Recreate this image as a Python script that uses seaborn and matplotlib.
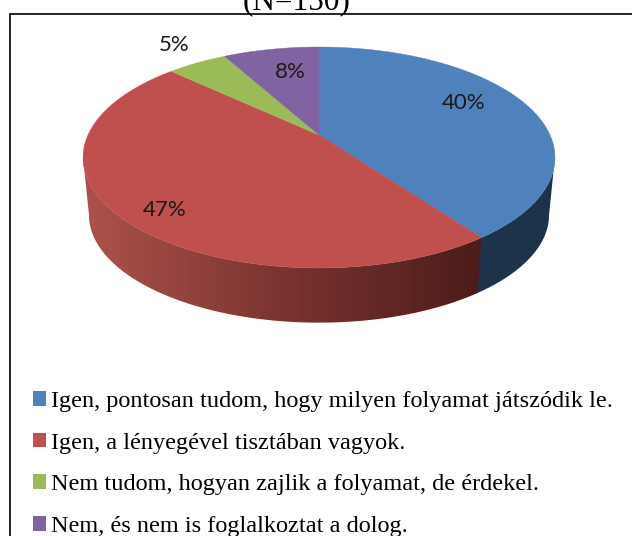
import numpy as np
import matplotlib
matplotlib.use('Agg')
import matplotlib.pyplot as plt
import seaborn as sns
from matplotlib.patches import Patch, Polygon

labels = ['Igen, pontosan tudom, hogy milyen folyamat játszódik le.',
          'Igen, a lényegével tisztában vagyok.',
          'Nem tudom, hogyan zajlik a folyamat, de érdekel.',
          'Nem, és nem is foglalkoztat a dolog.']
values = [40, 47, 5, 8]
colors = ['#4F81BD', '#C0504D', '#9BBB59', '#8064A2']
pct_text = ['40%', '47%', '5%', '8%']
pct_pos = [(464, 103), (165, 210), (174, 45), (290, 72)]

sns.set_theme(style='white')

# perspective settings for the 3D look
cx, cy = 319, 135
k, a, c = 0.2036, 105.9, 231
depth = 58
shrink = 0.975
side_start, side_end = 101.7, 258.3  # where the outline of the disc turns


def project(theta, scale=1.0, dy=0.0):
    u, v = np.sin(np.radians(theta)), np.cos(np.radians(theta))
    w = 1 + k * v
    return cx + scale * c * u / w, cy - scale * a * v / w + dy


def side_polygon(start, end):
    th = np.linspace(start, end, 200)
    x1, y1 = project(th)
    x2, y2 = project(th[::-1], shrink, depth)
    return np.c_[np.r_[x1, x2], np.r_[y1, y2]]


fig = plt.figure(figsize=(6.32, 5.36), dpi=100)
ax = fig.add_axes([0, 0, 1, 1])
ax.axis('off')

# side wall, only the front part shows
bounds = np.concatenate([[0], np.cumsum(values) / np.sum(values) * 360])
ax.add_patch(Polygon(side_polygon(side_start, bounds[1] + 0.3), closed=True, facecolor='#1D3349', edgecolor='none', zorder=2))

red_cmap = sns.blend_palette(['#AD524B', '#7A3330', '#4A1C1A'], 64, as_cmap=True)
red_side = Polygon(side_polygon(bounds[1], side_end), closed=True, transform=ax.transData, facecolor='none', edgecolor='none')
ax.add_patch(red_side)
img = ax.imshow(np.linspace(0, 1, 128).reshape(1, -1), cmap=red_cmap, extent=(83, 487, 336, 150), aspect='auto', zorder=2)
img.set_clip_path(red_side)

# top face
for i in range(len(values)):
    th = np.linspace(bounds[i], bounds[i + 1], 200)
    xs, ys = project(th)
    ax.fill(np.r_[cx, xs], np.r_[cy, ys], color=colors[i], lw=0.3, zorder=3)

ax.set_xlim(0, 632)
ax.set_ylim(536, 0)

# frame
ax.plot([10, 10], [536, 14], color='black', lw=1.2, clip_on=False)
ax.plot([10, 632], [14, 14], color='black', lw=1.2, clip_on=False)

ax.text(297, 9, '(N=150)', family='Liberation Serif', fontsize=22.5, ha='center', va='baseline', color='black')

for txt, (x, y) in zip(pct_text, pct_pos):
    ax.text(x, y, txt, family='Lato', fontsize=16, ha='center', va='center', color='#1a1a1a', zorder=4)

handles = [Patch(facecolor=col, edgecolor='none') for col in colors]
ax.legend(handles, labels, loc='lower left', bbox_to_anchor=(33 / 632, -1 / 536), frameon=False,
          prop={'family': 'Liberation Serif', 'size': 17.5}, handlelength=0.55, handleheight=0.55,
          handletextpad=0.2, labelspacing=0.85, borderpad=0, borderaxespad=0, labelcolor='black')

plt.savefig('out.png', dpi=100)
